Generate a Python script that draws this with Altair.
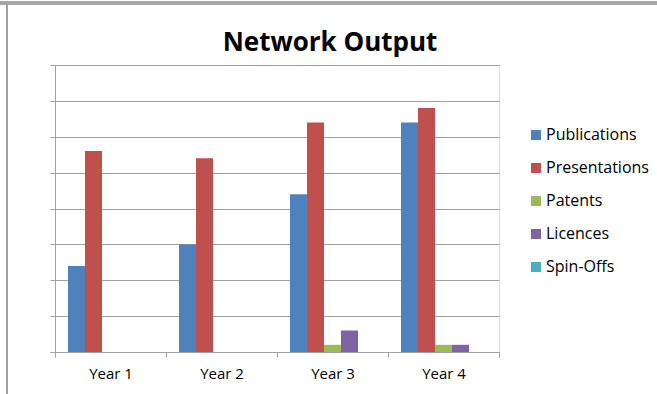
import altair as alt
import pandas as pd

years = ["Year 1", "Year 2", "Year 3", "Year 4"]
series = ["Publications", "Presentations", "Patents", "Licences", "Spin-Offs"]
colors = ["#4F81BD", "#C0504D", "#9BBB59", "#8064A2", "#4BACC6"]

publications = [12, 15, 22, 32]
presentations = [28, 27, 32, 34]
patents = [0, 0, 1, 1]
licences = [0, 0, 3, 1]
spin_offs = [0, 0, 0, 0]

values = [publications, presentations, patents, licences, spin_offs]
rows = []
for s, vals in zip(series, values):
    for y, v in zip(years, vals):
        rows.append({"Year": y, "Series": s, "Value": v})
df = pd.DataFrame(rows)

FONT = "Open Sans"
GRID = "#A0A0A0"

bars = alt.Chart(df).mark_bar(strokeWidth=0).encode(
    x=alt.X("Year:N", sort=years, title=None,
            scale=alt.Scale(paddingInner=0, paddingOuter=0),
            axis=alt.Axis(labelAngle=0, tickBand="extent", tickSize=5,
                          tickColor=GRID, domainColor=GRID, labelFont=FONT,
                          labelFontSize=15, labelColor="#000000", labelPadding=9,
                          grid=False)),
    xOffset=alt.XOffset("Series:N", sort=series,
                        scale=alt.Scale(paddingInner=0, paddingOuter=0.765)),
    y=alt.Y("Value:Q", title=None,
            scale=alt.Scale(domain=[0, 40], nice=False),
            axis=alt.Axis(values=[0, 5, 10, 15, 20, 25, 30, 35, 40], labels=False,
                          tickSize=5, tickColor=GRID, domainColor=GRID,
                          gridColor=GRID, grid=True)),
    color=alt.Color("Series:N", sort=series,
                    scale=alt.Scale(domain=series, range=colors),
                    legend=alt.Legend(title=None, orient="none", legendX=473,
                                      legendY=62, symbolType="square",
                                      symbolSize=100, symbolStrokeWidth=0,
                                      labelFont=FONT, labelFontSize=16,
                                      labelColor="#000000", labelOffset=2,
                                      rowPadding=17)),
)

top_border = alt.Chart(df).mark_rule(color="#A6A6A6", strokeWidth=3).encode(
    x=alt.value(-55), x2=alt.value(602), y=alt.value(-62)
)
left_border = alt.Chart(df).mark_rule(color="#A0A0A0", strokeWidth=1).encode(
    x=alt.value(-48), y=alt.value(-60), y2=alt.value(329)
)

chart = alt.layer(bars, top_border, left_border).properties(
    width=444, height=287,
    title=alt.TitleParams("Network Output", font=FONT, fontSize=26,
                          fontWeight="bold", anchor="middle", frame="group",
                          dx=53, dy=75, offset=0, baseline="alphabetic",
                          color="#000000"),
    autosize=alt.AutoSizeParams(type="none"),
    padding={"left": 55, "top": 65, "right": 158, "bottom": 42},
).configure_view(stroke=None).configure(background="#FFFFFF")

chart.save("out.html", embed_options={"renderer": "svg", "actions": False})
